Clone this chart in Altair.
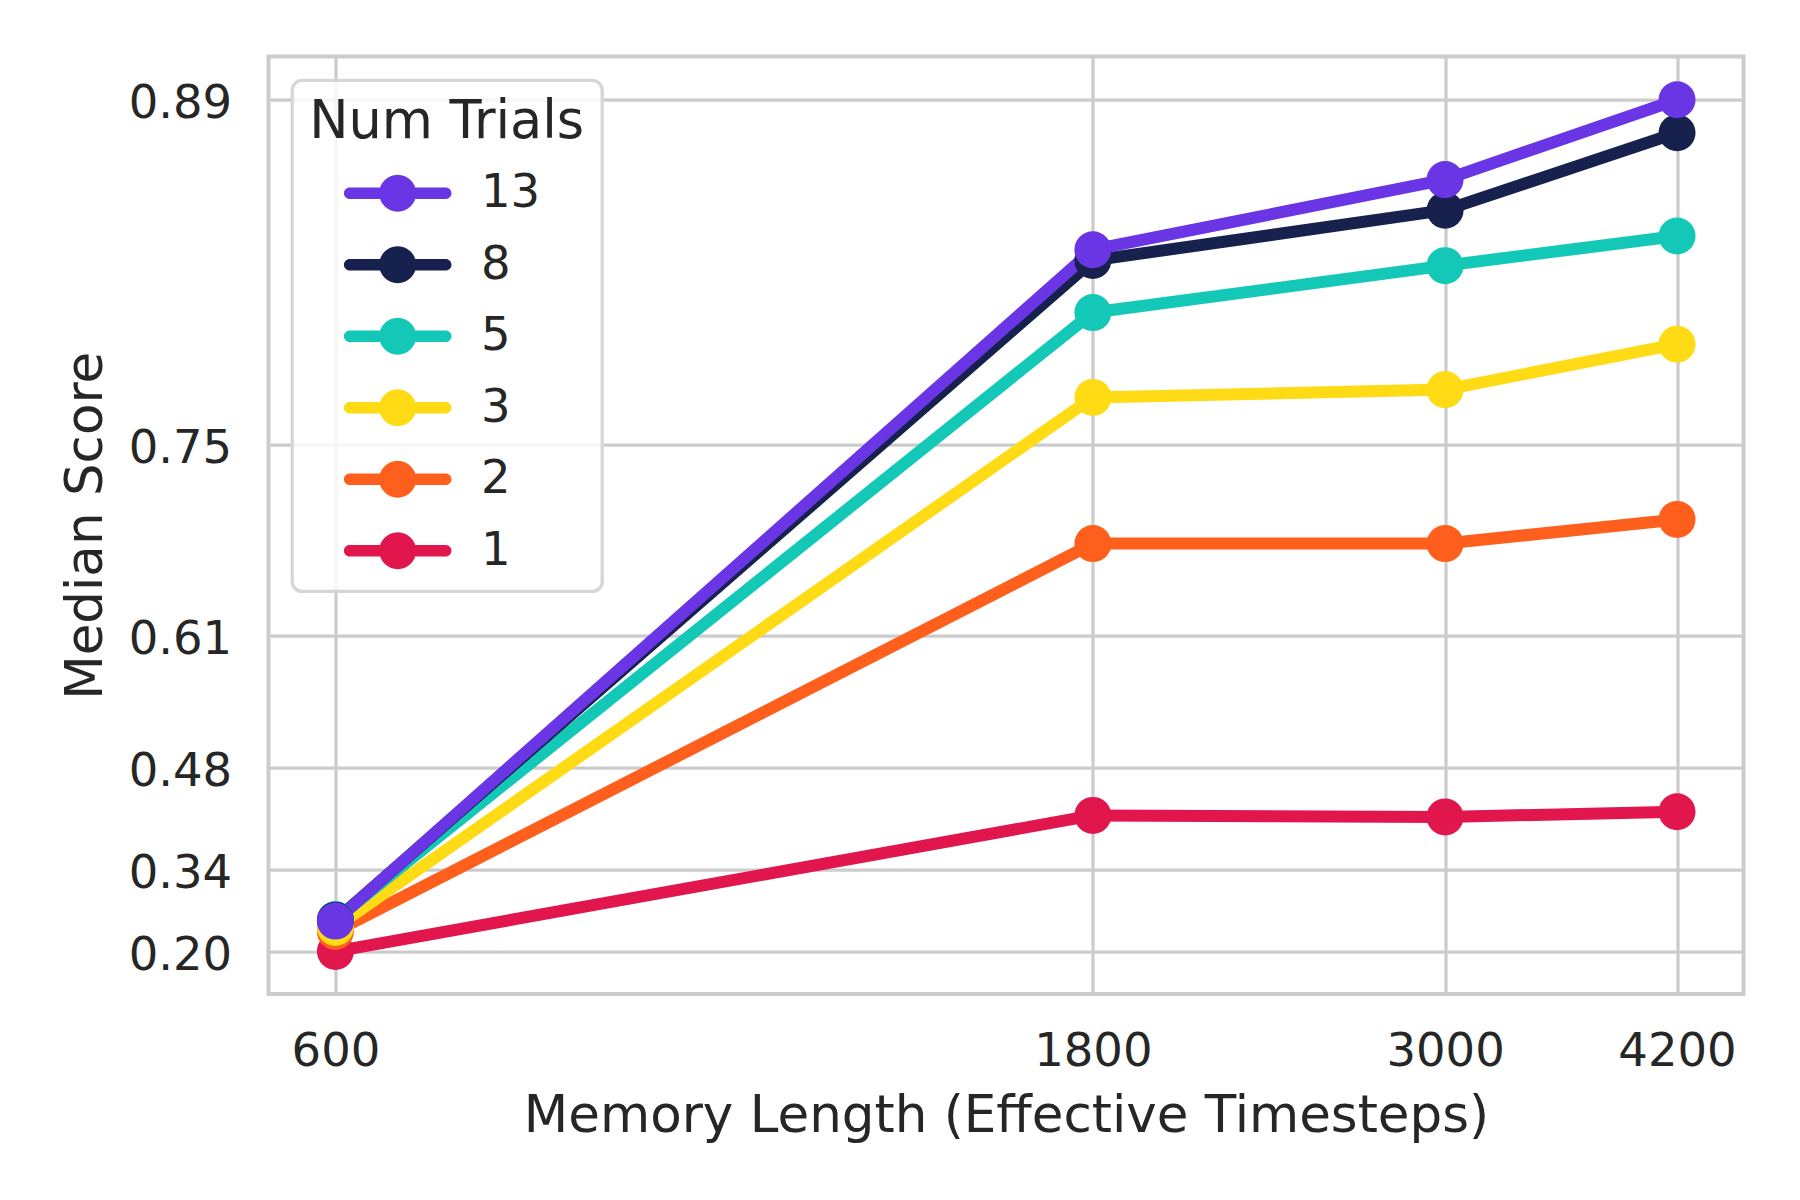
import altair as alt
import pandas as pd

# ---- data ----
MEMORY = [600, 1800, 3000, 4200]
TRIALS = ["1", "2", "3", "5", "8", "13"]
SCORES_1 = [0.200, 0.415, 0.413, 0.420]
SCORES_2 = [0.236, 0.688, 0.688, 0.705]
SCORES_3 = [0.243, 0.778, 0.782, 0.804]
SCORES_5 = [0.2565, 0.818, 0.837, 0.848]
SCORES_8 = [0.2555, 0.839, 0.857, 0.881]
SCORES_13 = [0.254, 0.843, 0.867, 0.890]
LEGEND_ORDER = ["13", "8", "5", "3", "2", "1"]
COLORS = ["#6a35e4", "#16224d", "#14c8b8", "#fedb15", "#fe5f1d", "#e1164c"]
Y_TICKS = [0.200, 0.338, 0.476, 0.614, 0.752, 0.890]
OFFSET = 1.005  # y axis is drawn on a log scale of (OFFSET - score), reversed

series = [SCORES_1, SCORES_2, SCORES_3, SCORES_5, SCORES_8, SCORES_13]
rows = []
for t, sc in zip(TRIALS, series):
    for m, s in zip(MEMORY, sc):
        rows.append({"memory": m, "trials": t, "score": s})
df = pd.DataFrame(rows)

fail_ticks = [round(OFFSET - v, 4) for v in Y_TICKS]

FONT = "DejaVu Sans"
TXT = "#262626"

# legend symbol: thick line with a filled circle (unit = circle radius)
SYMBOL = ("M-2.595,-0.311L2.595,-0.311A0.311,0.311,0,0,1,2.595,0.311"
          "L-2.595,0.311A0.311,0.311,0,0,1,-2.595,-0.311Z "
          "M1,0A1,1,0,1,1,-1,0A1,1,0,1,1,1,0Z")

x_enc = alt.X(
    "memory:Q",
    scale=alt.Scale(type="log", domain=[544.5, 4625], nice=False),
    axis=alt.Axis(
        values=MEMORY, format="d", labelFlush=False,
        title="Memory Length (Effective Timesteps)",
        labelPadding=34, titleBaseline="alphabetic", titleY=137.3,
    ),
)
y_enc = alt.Y(
    "fail:Q",
    scale=alt.Scale(type="log", domain=[0.1042, 0.8872], reverse=True, nice=False),
    axis=alt.Axis(
        values=fail_ticks,
        labelExpr=f"format({OFFSET} - datum.value, '.2f')",
        title="Median Score",
        labelPadding=36.8, labelOffset=4,
        titleBaseline="alphabetic", titleX=-167.2, titleAngle=270,
    ),
)
color_scale = alt.Scale(domain=LEGEND_ORDER, range=COLORS)

base = alt.Chart(df).transform_calculate(fail=f"{OFFSET} - datum.score")

lines = base.mark_line(strokeWidth=12, strokeCap="round", strokeJoin="round").encode(
    x=x_enc, y=y_enc,
    color=alt.Color("trials:N", scale=color_scale, legend=None),
)
points = base.mark_circle(size=1369, opacity=1).encode(
    x=x_enc, y=y_enc,
    color=alt.Color(
        "trials:N", scale=color_scale,
        legend=alt.Legend(
            title="Num Trials", orient="none", legendX=23.7, legendY=23.8,
            symbolType=SYMBOL, symbolSize=1369, symbolStrokeWidth=0,
            symbolOpacity=1, symbolOffset=65.25, labelOffset=60,
            rowPadding=24.5, titlePadding=20, padding=17,
            titleLimit=0, labelLimit=0,
            fillColor="rgba(255,255,255,0.8)", strokeColor="#d6d6d6",
            cornerRadius=10,
        ),
    ),
)

chart = (
    alt.layer(lines, points)
    .resolve_legend(color="independent")
    .properties(
        width=1475, height=937.4,
        autosize=alt.AutoSizeParams(type="none"),
        padding={"left": 260.5, "top": 48.6, "right": 30, "bottom": 170},
        background="white",
    )
    .configure(font=FONT)
    .configure_view(stroke="#cccccc", strokeWidth=4, fill="white")
    .configure_axis(
        labelFont=FONT, titleFont=FONT, labelColor=TXT, titleColor=TXT,
        labelFontSize=46.5, titleFontSize=51.5, titleFontWeight="normal",
        gridColor="#cccccc", gridWidth=3.3, domain=False, ticks=False, tickSize=0,
    )
    .configure_legend(
        labelFont=FONT, titleFont=FONT, labelColor=TXT, titleColor=TXT,
        labelFontSize=46.5, titleFontSize=52.5, titleFontWeight="normal",
        strokeWidth=3.3, labelBaseline="middle",
    )
)

chart.save("out.html", embed_options={"renderer": "svg", "actions": False})
